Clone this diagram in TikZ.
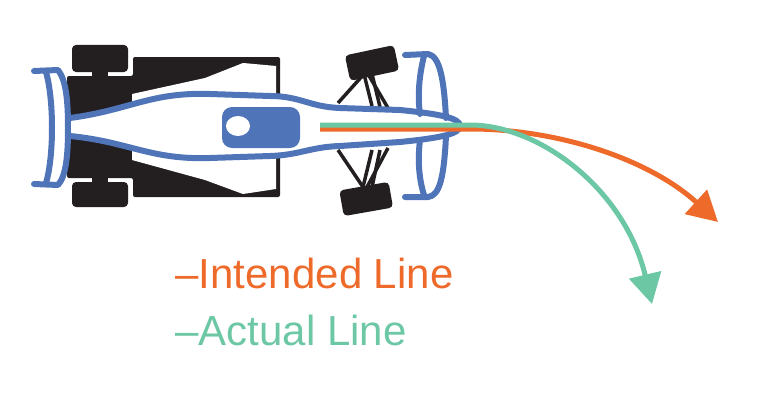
\documentclass[tikz,border=0pt]{standalone}
\usepackage{fontspec}
\setmainfont{Liberation Sans}
\usetikzlibrary{arrows.meta}
\definecolor{carblue}{HTML}{4F74B8}
\definecolor{carblack}{HTML}{231F20}
\definecolor{lineorange}{HTML}{EE6A2A}
\definecolor{linegreen}{HTML}{6CC7A5}
\tikzset{
  bodyline/.style={draw=carblue, line width=6pt, line join=round, line cap=round},
  wheel/.style={fill=carblack, rounded corners=4pt},
  rod/.style={draw=carblack, line width=3.5pt},
  racingline/.style={line width=5pt, -{Triangle[length=30pt, width=32pt]}},
}
\begin{document}
\begin{tikzpicture}[x=1pt, y=-1pt]
  \useasboundingbox (0,0) rectangle (775,412);

  % rear wheels and sidepods
  \fill[wheel] (72,45) rectangle (128,72);
  \fill[wheel] (72,182) rectangle (128,207);
  \fill[carblack] (92,70) rectangle (108,80);
  \fill[carblack] (92,175) rectangle (108,185);
  \fill[carblack, rounded corners=2pt] (67,76) -- (133,76) -- (133,57) -- (280,57)
    -- (280,197) -- (133,197) -- (133,178) -- (67,178) -- cycle;
  \fill[white] (132,94) -- (205,78) -- (243,63) -- (276,66) -- (276,189)
    -- (243,194) -- (205,180) -- (132,160) -- cycle;

  % front suspension
  \draw[rod] (338,103) -- (364,74); \draw[rod] (364,74) -- (372,106);
  \draw[rod] (368,74) -- (388,108); \draw[rod] (372,74) -- (380,107);
  \draw[rod] (338,150) -- (363,187); \draw[rod] (363,187) -- (372,150);
  \draw[rod] (367,187) -- (388,148); \draw[rod] (372,187) -- (380,150);
  \fill[wheel, rotate around={12:(372,63)}] (347,50) rectangle (397,76);
  \fill[wheel, rotate around={10:(366,198)}] (341,186) rectangle (391,212);

  % body outline
  \filldraw[bodyline, fill=white] (70,118) .. controls (130,110) and (150,92) .. (210,94)
    -- (270,96) .. controls (300,96) and (310,107) .. (340,108)
    -- (400,110) .. controls (440,114) and (460,118) .. (460,126)
    .. controls (460,134) and (440,138) .. (400,142)
    -- (340,146) .. controls (310,147) and (300,155) .. (270,156)
    -- (210,158) .. controls (150,160) and (130,142) .. (70,136);

  % rear wing
  \draw[bodyline] (34,71) -- (58,70) .. controls (66,80) and (68,100) .. (68,128)
    .. controls (68,156) and (66,176) .. (58,185) -- (34,184);
  \draw[bodyline] (46,72) .. controls (54,100) and (54,156) .. (46,183);

  % front wing
  \draw[bodyline] (405,55) -- (428,54) .. controls (440,56) and (444,80) .. (446,118);
  \draw[bodyline] (446,136) .. controls (444,176) and (440,196) .. (428,197) -- (405,197);
  \draw[bodyline] (424,56) .. controls (418,80) and (418,100) .. (420,114);
  \draw[bodyline] (424,195) .. controls (418,176) and (418,156) .. (420,140);

  % cockpit
  \fill[carblue, rounded corners=10pt] (222,107) rectangle (300,148);
  \fill[white] (238,126) ellipse (12pt and 10pt);

  % racing lines
  \coordinate (intended) at (718,222);
  \coordinate (actual) at (652,304);
  \draw[racingline, lineorange] (320,129) -- (470,129)
    .. controls (560,129) and (650,160) .. (intended);
  \draw[racingline, linegreen] (320,125) -- (470,125)
    .. controls (540,125) and (625,190) .. (actual);

  % legend
  \node[anchor=west, text=lineorange, font=\fontsize{42}{48}\selectfont] (legintended) at (172,273) {–Intended Line};
  \node[anchor=west, text=linegreen, font=\fontsize{42}{48}\selectfont] (legactual) at (172,330) {–Actual Line};
\end{tikzpicture}
\end{document}
